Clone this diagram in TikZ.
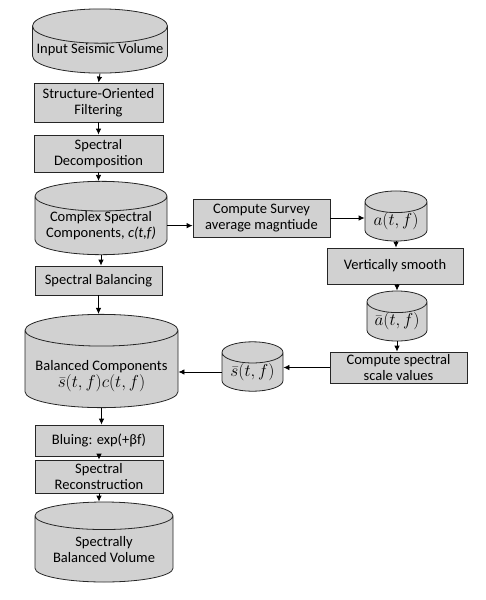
\documentclass[tikz,border=0pt]{standalone}
\usepackage{fontspec}
\setmainfont{Carlito}
\usetikzlibrary{positioning, calc, arrows, arrows.meta, shapes}
\tikzset{box/.style={draw=black!85, fill=black!18, thick, rectangle, align=center, inner sep=0pt}}
\tikzset{tank/.style={draw=black!85, thick, cylinder, shape border rotate=90, anchor=shape center, cylinder uses custom fill, cylinder body fill=black!18, cylinder end fill=black!18, align=center, inner sep=0pt}}
\newcommand{\tf}[1]{{\fontsize{16}{17}\selectfont$#1$}}

\begin{document}
\begin{tikzpicture}[x=1pt, y=-1pt, >={Latex[length=6pt,width=5.5pt]}, every path/.style={thick}, font=\fontsize{14.5}{16}\selectfont]

      \useasboundingbox (0,0) rectangle (485,600);

      % MAIN COLUMN

      \node[tank, minimum width=135, minimum height=52, aspect=0.27] (inVol) at (100,41) {Input Seismic Volume};
      \node[box, minimum width=129, minimum height=39] (sof) at (98.5,102.5) {Structure-Oriented\\Filtering};
      \node[box, minimum width=129, minimum height=37] (sd) at (98.5,153.5) {Spectral\\Decomposition};
      \node[tank, minimum width=132, minimum height=60, aspect=0.27] (csc) at (101,218) {Complex Spectral\\Components, \textit{c(t,f)}};
      \node[box, minimum width=127, minimum height=29] (sb) at (98.5,280.5) {Spectral Balancing};
      \node[tank, minimum width=153, minimum height=68, aspect=0.24] (bc) at (101.5,361) {\rule{0pt}{24pt}Balanced Components\\[1pt]\tf{\bar{s}(t,f)c(t,f)}};
      \node[box, minimum width=128, minimum height=31] (blu) at (99,440.5) {Bluing: exp(+βf)};
      \node[box, minimum width=128, minimum height=33] (sr) at (99,476.5) {Spectral\\Reconstruction};
      \node[tank, minimum width=138, minimum height=80, aspect=0.27] (sbv) at (104,542) {Spectrally\\Balanced Volume};

      % RIGHT BRANCH

      \node[box, minimum width=137, minimum height=38] (csa) at (261.5,218) {Compute Survey\\average magntiude};
      \node[tank, minimum width=62, minimum height=42, aspect=0.48] (amp) at (396,216) {\tf{a(t,f)}};
      \node[box, minimum width=136, minimum height=36] (vs) at (395,266) {Vertically smooth};
      \node[tank, minimum width=60, minimum height=42, aspect=0.48] (ampBar) at (397,316) {\tf{\bar{a}(t,f)}};
      \node[box, minimum width=137, minimum height=31] (css) at (398.5,367.5) {Compute spectral\\scale values};
      \node[tank, minimum width=61, minimum height=43, aspect=0.48] (sBar) at (252.5,366.5) {\tf{\bar{s}(t,f)}};

      % ARROWS

      \draw[->] (inVol.south) -- (sof.north);
      \draw[->] (sof.south) -- (sd.north);
      \draw[->] (sd.south) -- (sd.south |- csc.north);
      \draw[->] (csc.south) -- (csc.south |- sb.north);
      \draw[->] (sb.south) -- (sb.south |- bc.north);
      \draw[->] (bc.south) -- (bc.south |- blu.north);
      \draw[->] (blu.south) -- (sr.north);
      \draw[->] (sr.south) -- (sr.south |- sbv.north);
      \draw[->] (csc.east) -- (csc.east -| csa.west);
      \draw[->] (csa.east) -- (csa.east -| amp.west);
      \draw[->] (amp.south) -- (amp.south |- vs.north);
      \draw[->] (vs.south -| ampBar.north) -- (ampBar.north);
      \draw[->] (ampBar.south) -- (ampBar.south |- css.north);
      \draw[->] (css.west) -- (css.west -| sBar.east);
      \draw[->] (sBar.west) -- (sBar.west -| bc.east);

\end{tikzpicture}
\end{document}
